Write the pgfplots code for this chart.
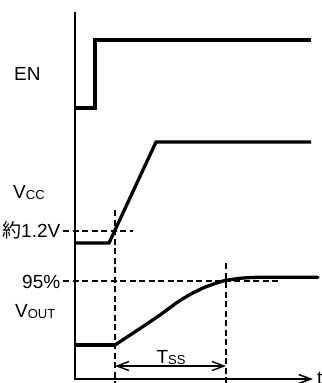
\documentclass[border=0pt]{standalone}
\usepackage{fontspec}
\setmainfont{Liberation Sans}
\newfontfamily\cjk{Noto Sans CJK JP}
\usepackage{pgfplots}
\pgfplotsset{compat=1.18}
\usetikzlibrary{arrows.meta}
\begin{document}
\fontsize{19bp}{21bp}\selectfont
\begin{tikzpicture}
\begin{axis}[width=322bp, height=383bp, scale only axis,
  xmin=0, xmax=322, ymin=0, ymax=383, y dir=reverse,
  hide axis, clip=false]
% axes
\addplot[black, line width=1.6bp, line cap=rect] coordinates {(75,13) (75,379)};
\addplot[black, line width=1.6bp, arrows={-Straight Barb[length=12bp,width=9bp]}] coordinates {(75,379) (313,379)};
% dashed guides
\addplot[black, line width=1.3bp, dash pattern=on 6bp off 3.5bp] coordinates {(63,231) (133,231)};
\addplot[black, line width=1.3bp, dash pattern=on 6bp off 3.5bp] coordinates {(63,281) (278,281)};
\addplot[black, line width=1.3bp, dash pattern=on 6bp off 3.5bp] coordinates {(115,210) (115,383)};
\addplot[black, line width=1.3bp, dash pattern=on 6bp off 3.5bp] coordinates {(226,263) (226,383)};
% EN
\addplot[black, line width=3.3bp, line join=miter] coordinates {(75,108) (95,108) (95,40) (311,40)};
% VCC
\addplot[black, line width=3.3bp, line join=miter] coordinates {(75,243) (109,243) (156,142) (311,142)};
% VOUT
\addplot[black, line width=3.3bp] coordinates {(75,345) (115,345)};
\addplot[black, line width=3.3bp, smooth, tension=0.3, line cap=round] coordinates {(115,345) (143,326.5) (160,315) (177,302.5) (190,294.5) (203,288) (215,283.5) (225,280.5) (240,278.3) (258,277.3) (318,277.3)};
% Tss arrow
\addplot[black, line width=1.4bp, arrows={Straight Barb[length=12bp,width=9bp]-Straight Barb[length=12bp,width=9bp]}] coordinates {(115,366) (226,366)};
% labels
\node[anchor=base west, inner sep=0] at (axis cs:14,80) {EN};
\node[anchor=base west, inner sep=0] at (axis cs:13,198) {V\raisebox{-1bp}{\fontsize{13bp}{13bp}\selectfont CC}};
\node[anchor=base west, inner sep=0] at (axis cs:2,237.5) {{\cjk 約}1.2V};
\node[anchor=base west, inner sep=0] at (axis cs:22,288) {95\%};
\node[anchor=base west, inner sep=0] at (axis cs:15,317) {V\raisebox{-1bp}{\fontsize{13bp}{13bp}\selectfont OUT}};
\node[anchor=base, inner sep=0] at (axis cs:171,363) {T\raisebox{-1bp}{\fontsize{13bp}{13bp}\selectfont SS}};
\node[anchor=base west, inner sep=0] at (axis cs:317,384) {t};
\end{axis}
\pgfresetboundingbox
\path (current axis.south west) rectangle (current axis.north east);
\end{tikzpicture}
\end{document}
